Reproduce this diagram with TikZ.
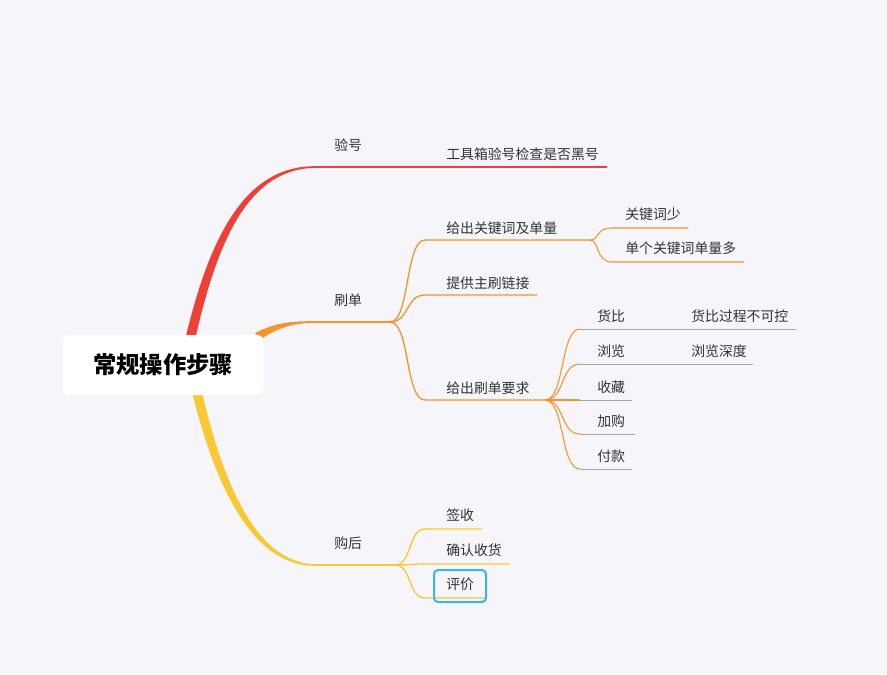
\documentclass[tikz,border=0pt]{standalone}
\usepackage{fontspec}
\setmainfont{Noto Sans CJK SC}
\begin{document}
\begin{tikzpicture}[x=0.75pt,y=-0.75pt,
  lbl/.style={anchor=west,inner sep=0pt,font=\fontsize{10.4pt}{12pt}\selectfont,text=black!80},
  red/.style={color={rgb,255:red,238;green,64;blue,54}},
  org/.style={color={rgb,255:red,247;green,148;blue,42}},
  yel/.style={color={rgb,255:red,250;green,200;blue,50}},
  gry/.style={color=black!35,line width=0.6pt}]
\fill[color={rgb,255:red,245;green,245;blue,250}] (0,0) rectangle (887,674);
\useasboundingbox (0,0) rectangle (887,674);
% coordinates
\coordinate (a0) at (315,167); \coordinate (a2) at (607,167);
\coordinate (b0) at (315,322); \coordinate (b1) at (390,322);
\coordinate (c0) at (315,565); \coordinate (c1) at (395,565);
% main branches (tapered)
\fill[red] (185,340) .. controls (211,230) and (248,166) .. (315,166.2) -- (315,167.8) .. controls (252,169) and (219,232) .. (195,340) -- cycle;
\draw[red,line width=1.5pt] (a0) -- (a2);
\fill[org] (255,333) .. controls (275,323) and (290,321) .. (315,321.2) -- (315,322.8) .. controls (292,323) and (278,328) .. (261,339) -- cycle;
\draw[org,line width=1.5pt] (b0) -- (b1);
\fill[yel] (187,370) .. controls (211,480) and (250,566) .. (315,565.8) -- (315,564.2) .. controls (255,563) and (220,480) .. (197,370) -- cycle;
\draw[yel,line width=1.5pt] (c0) -- (c1);
% root
\node[fill=white,rounded corners=4pt,minimum width=201*0.75pt,minimum height=60*0.75pt,font=\fontsize{17.5pt}{20pt}\selectfont\bfseries] (root) at (163,365) {常规操作步骤};
\node[lbl] (yh) at (334,145) {验号};
\node[lbl] (sd) at (334,300) {刷单};
\node[lbl] (gh) at (334,543) {购后};
\node[lbl] (gjx) at (446,154) {工具箱验号检查是否黑号};
% 刷单 children
\foreach \n/\y/\e/\t in {k1/240/590/给出关键词及单量, k2/295/537/提供主刷链接, k3/400/545/给出刷单要求}{
  \draw[org,line width=1pt] (b1) .. controls (410,322) and (405,\y) .. (425,\y) -- (\e,\y) coordinate (\n e);
  \node[lbl] (\n) at (446,\y-12) {\t};
}
\foreach \n/\y/\e/\t in {m1/228/688/关键词少, m2/262/744/单个关键词单量多}{
  \draw[org,line width=0.8pt] (k1e) .. controls (600,240) and (595,\y) .. (612,\y) -- (\e,\y);
  \node[lbl] (\n) at (625,\y-14) {\t};
}
\foreach \n/\y/\e/\t in {h1/329/680/货比, h2/364/680/浏览, h3/400/632/收藏, h4/434/635/加购, h5/469/632/付款}{
  \draw[org,line width=0.8pt] (k3e) .. controls (565,400) and (560,\y) .. (580,\y);
  \draw[gry] (580,\y) -- (\e,\y);
  \node[lbl] (\n) at (597,\y-13) {\t};
}
\draw[gry] (680,329) -- (796,329); \node[lbl] (hb) at (691,316) {货比过程不可控};
\draw[gry] (680,364) -- (753,364); \node[lbl] (ll) at (691,351) {浏览深度};
% 购后 children
\foreach \n/\y/\e/\t in {g1/529/482/签收, g2/564/510/确认收货, g3/598/485/评价}{
  \draw[yel,line width=1pt] (c1) .. controls (412,565) and (408,\y) .. (425,\y) -- (\e,\y);
  \node[lbl] (\n) at (446,\y-14) {\t};
}
\draw[color={rgb,255:red,60;green,180;blue,240},line width=1.5pt,rounded corners=3pt] (434,570) rectangle (486,602);
\end{tikzpicture}
\end{document}
